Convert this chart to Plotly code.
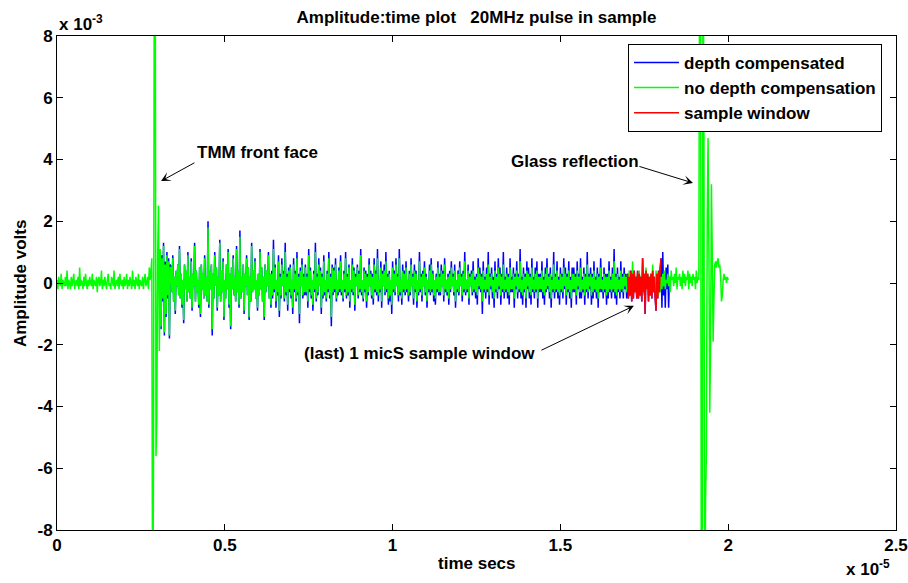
import plotly.graph_objects as go

# ---------------- data ----------------
# time in units of 1e-5 s, samples every dt; amplitudes in units of 1e-4 V
dt = 0.0025
UNIT = 0.1            # 1e-4 V -> axis unit of 1e-3 V

window_start = 1.70   # "(last) 1 micS sample window"
window_end = 1.80

# ---- no depth compensation (green) ----
green_pre_t0 = 0.0
green_pre = [
    1, -2, 2, 0, -1, 3, -2, 1, 0, -1, 2, -1, 4, -2, 1, 0, -2, 2, -1, 1, 3, -2, 0, 1, -1, 2, -2, 5, -1, 1, 0, -2, 2, -1, 3, 0, -2, 1, -1, 2,
    0, -1, 3, -2, 1, 0, -1, 2, -3, 1, 2, -1, 0, 4, -2, 1, -1, 2, 0, -2, 1, 3, -1, 0, -2, 2, 1, -1, 4, -2, 0, 1, -1, 2, -2, 3, 0, -1, 1, -2,
    2, -1, 0, 3, -2, 1, -1, 2, 0, -2, 4, -1, 1, -2, 2, 0, -1, 3, -2, 1, 0, -1, 2, -2, 1, 3, -1, 0, 2, -2, 5, 1,
]
green_front_t0 = 0.28
green_front = [4, 8, -120, -60, 120, 120, -56, -43, 10, 25, -22, 11, -14, 8, -5, 12, -16, 6, -10, 9, -4, 7, -17, 5]

green_echo_t0 = 0.34
green_echo = [
    5, -3, 8, -6, 2, -9, 4, -1, 6, -4, 11, -5, 3, -7, 1, -12, 6, -2, 4, -6, 9, -3, 2, -5, 7, -8, 3, -1, 12, -6, 4, -3, 1, -7, 5, -10, 6, -2, 3, -5,
    8, -4, 2, -6, 18, -7, 4, -2, 6, -15, 3, -5, 9, -1, 5, -8, 2, -4, 13, -6, 4, -3, 7, -11, 1, -5, 6, -2, 10, -7, 3, -14, 5, -2, 8, -4, 2, -6, 11, -3,
    4, -7, 15, -5, 2, -3, 6, -9, 3, -1, 8, -4, 5, -11, 2, -6, 12, -3, 4, -2, 7, -5, 1, -8, 3, -4, 10, -2, 5, -6, 2, -11, 6, -3, 4, -1, 9, -5, 3, -7,
    3, -4, 11, -2, 5, -6, 1, -3, 7, -9, 2, -4, 6, -1, 3, -5, 10, -3, 2, -7, 4, -2, 5, -4, 1, -8, 6, -2, 3, -5, 8, -3, 2, -10, 4, -1, 6, -4, 2, -3,
    5, -3, 2, -6, 9, -2, 4, -4, 1, -7, 3, -2, 10, -5, 2, -3, 6, -1, 4, -8, 2, -4, 7, -3, 1, -5, 3, -2, 8, -4, 2, -11, 5, -3, 4, -2, 6, -5, 1, -3,
    4, -2, 7, -3, 1, -5, 3, -2, 8, -4, 2, -3, 5, -6, 1, -2, 6, -3, 4, -7, 2, -1, 5, -4, 3, -2, 9, -3, 1, -5, 4, -2, 3, -6, 2, -3, 6, -1, 3, -4,
    2, -5, 6, -2, 3, -3, 8, -4, 1, -2, 5, -6, 3, -1, 4, -3, 7, -2, 2, -5, 3, -4, 1, -7, 5, -2, 3, -3, 6, -1, 2, -4, 8, -3, 1, -5, 4, -2, 3, -3,
    5, -2, 1, -4, 3, -3, 6, -1, 2, -5, 4, -2, 3, -6, 1, -3, 7, -2, 2, -4, 3, -1, 5, -3, 2, -6, 1, -2, 4, -3, 6, -2, 3, -4, 1, -5, 2, -2, 5, -3,
    2, -3, 4, -1, 3, -4, 6, -2, 1, -3, 2, -5, 3, -2, 5, -1, 2, -3, 4, -6, 1, -2, 3, -3, 5, -1, 2, -4, 3, -2, 7, -3, 1, -2, 4, -5, 2, -1, 3, -3,
    4, -2, 1, -3, 2, -4, 5, -1, 3, -2, 2, -6, 4, -2, 1, -3, 3, -2, 6, -4, 2, -1, 3, -3, 1, -5, 4, -2, 2, -3, 5, -1, 3, -4, 2, -2, 6, -3, 1, -2,
    3, -3, 2, -4, 5, -2, 1, -2, 3, -5, 2, -1, 4, -3, 2, -2, 7, -3, 1, -4, 3, -2, 2, -5, 4, -1, 3, -3, 2, -4, 5, -2, 1, -3, 3, -2, 4, -5, 2, -2,
    2, -2, 4, -3, 1, -4, 3, -2, 5, -1, 2, -3, 3, -5, 1, -2, 6, -3, 2, -2, 4, -3, 1, -4, 3, -2, 2, -3, 5, -1, 3, -4, 2, -2, 4, -3, 1, -5, 3, -2,
    3, -2, 2, -4, 4, -1, 2, -3, 5, -3, 1, -2, 3, -4, 2, -2, 6, -3, 2, -1, 3, -4, 2, -3, 4, -2, 1, -3, 3, -5, 2, -2, 5, -2, 1, -3, 3, -2, 2, -4,
    2, -3, 4, -2, 1, -3, 3, -2, 7, -3, 2, -4, 3, -2, 1, -3, 4, -2, 2, -3, 3, -1, 2, -3,
]
green_tail_t0 = 1.70
green_tail = [
    3, -2, 4, -3, 2, -4, 7, -2, 3, -3, 2, -4, 3, -2, 4, -3, 2, -2, 3, -4, 2, -3, 5, -2, 3, -3, 2, -4, 3, -2, 6, -3, 2, -3, 4, -2, 3, -4, 2, -3,
    2, -2, 3, -1, 4, -2, 1, 0, 3, -1, 2, -3, 4, 1, 2, -1, 3, 0, 5, -2, 2, 1, 3, -1, 2, -2, 4, 0, 3, -1, 2, 1, 4, -2, 3, 0, 2, -1, 3, 1, 2, -2, 4, 0, 2, 1,
]
green_glass_t0 = 1.915
green_glass = [120, 120, -120, -120, 120, 60, -120, -70, -55, 20, 47, 10, -42, -20, 32, 10, -19, -5, 6, 7,
               5, 7, 8, 5, 6, 2, -6, -4, 1, 3, 1, 2, 0, 2, 1]

# ---- depth compensated (blue) ----
blue_front_t0 = 0.31
blue_front = [-15, 9, -6, 13, -17, 7, -11, 10, -5, 8, -18, 6]

blue_echo_t0 = 0.34
blue_echo = [
    5, -3, 9, -6, 2, -10, 4, -1, 6, -4, 12, -5, 3, -8, 1, -13, 6, -2, 4, -6, 10, -3, 2, -5, 8, -9, 3, -1, 13, -6, 4, -3, 1, -8, 5, -11, 6, -2, 3, -5,
    9, -4, 2, -6, 20, -8, 4, -2, 6, -17, 3, -5, 10, -1, 5, -9, 2, -4, 14, -6, 4, -3, 8, -12, 1, -5, 6, -2, 11, -8, 3, -15, 5, -2, 9, -4, 2, -6, 12, -3,
    4, -8, 17, -5, 2, -3, 6, -10, 3, -1, 9, -4, 5, -12, 2, -6, 13, -3, 4, -2, 8, -5, 1, -9, 3, -4, 11, -2, 5, -6, 2, -12, 6, -3, 4, -1, 10, -5, 3, -8,
    4, -5, 14, -3, 6, -8, 1, -4, 9, -11, 3, -5, 8, -1, 4, -6, 13, -4, 3, -9, 5, -3, 6, -5, 1, -10, 8, -3, 4, -6, 10, -4, 3, -13, 5, -1, 8, -5, 3, -4,
    6, -4, 3, -8, 11, -3, 5, -5, 1, -9, 4, -3, 13, -6, 3, -4, 8, -1, 5, -10, 3, -5, 9, -4, 1, -6, 4, -3, 10, -5, 3, -14, 6, -4, 5, -3, 8, -6, 1, -4,
    5, -3, 9, -4, 1, -6, 4, -3, 10, -5, 3, -4, 6, -8, 1, -3, 8, -4, 5, -9, 3, -1, 6, -5, 4, -3, 11, -4, 1, -6, 5, -3, 4, -8, 3, -4, 8, -1, 4, -5,
    3, -7, 8, -3, 4, -4, 11, -6, 1, -3, 7, -8, 4, -1, 6, -4, 10, -3, 3, -7, 4, -6, 1, -10, 7, -3, 4, -4, 8, -1, 3, -6, 11, -4, 1, -7, 6, -3, 4, -4,
    7, -3, 1, -6, 4, -4, 8, -1, 3, -7, 6, -3, 4, -8, 1, -4, 10, -3, 3, -6, 4, -1, 7, -4, 3, -8, 1, -3, 6, -4, 8, -3, 4, -6, 1, -7, 3, -3, 7, -4,
    3, -4, 6, -1, 4, -6, 8, -3, 1, -4, 3, -7, 4, -3, 7, -1, 3, -4, 6, -8, 1, -3, 4, -4, 7, -1, 3, -6, 4, -3, 10, -4, 1, -3, 6, -7, 3, -1, 4, -4,
    7, -3, 2, -5, 3, -7, 8, -2, 5, -3, 3, -10, 7, -3, 2, -5, 5, -3, 10, -7, 3, -2, 5, -5, 2, -8, 7, -3, 3, -5, 8, -2, 5, -7, 3, -3, 10, -5, 2, -3,
    5, -5, 3, -7, 8, -3, 2, -3, 5, -8, 3, -2, 7, -5, 3, -3, 11, -5, 2, -7, 5, -3, 3, -8, 7, -2, 5, -5, 3, -7, 8, -3, 2, -5, 5, -3, 7, -8, 3, -3,
    3, -3, 7, -5, 2, -7, 5, -3, 8, -2, 3, -5, 5, -8, 2, -3, 10, -5, 3, -3, 7, -5, 2, -7, 5, -3, 3, -5, 8, -2, 5, -7, 3, -3, 7, -5, 2, -8, 5, -3,
    5, -3, 3, -7, 7, -2, 3, -5, 8, -5, 2, -3, 5, -7, 3, -3, 10, -5, 3, -2, 5, -7, 3, -5, 7, -3, 2, -5, 5, -8, 3, -3, 8, -3, 2, -5, 5, -3, 3, -7,
    3, -5, 7, -3, 2, -5, 5, -3, 11, -5, 3, -7, 5, -3, 2, -5, 7, -3, 3, -5, 5, -2, 3, -5,
]
blue_window_t0 = 1.70
blue_window = [
    3, -5, 2, -4, 4, -6, 3, -5, 4, -3, 2, -5, 4, -5, 3, -4, 2, -6, 8, -3,
    3, -10, 4, -2, 3, -6, 2, -4, 3, -5, 4, -3, 2, -5, -9, 3, -5, 4, -3, 5, 8,
    -8, 10, -4, 3, -8, 5, -2, 6, -8, 2,
]

x_ticks = [0, 0.5, 1, 1.5, 2, 2.5]
x_ticklabels = ["0", "0.5", "1", "1.5", "2", "2.5"]
y_ticks = [-8, -6, -4, -2, 0, 2, 4, 6, 8]
y_ticklabels = ["-8", "-6", "-4", "-2", "0", "2", "4", "6", "8"]


def series(segments):
    xs, ys = [], []
    for t0, vals in segments:
        for k, v in enumerate(vals):
            xs.append(t0 + k * dt)
            ys.append(v * UNIT)
    return xs, ys


gx, gy = series([(green_pre_t0, green_pre), (green_front_t0, green_front),
                 (green_echo_t0, green_echo), (green_tail_t0, green_tail),
                 (green_glass_t0, green_glass)])
bx, by = series([(blue_front_t0, blue_front), (blue_echo_t0, blue_echo),
                 (blue_window_t0, blue_window)])
# sample window: depth compensated samples inside [window_start, window_end]
rx = [x for x in bx if window_start - 1e-9 <= x <= window_end + 1e-9]
ry = [y for x, y in zip(bx, by) if window_start - 1e-9 <= x <= window_end + 1e-9]

FONT = "Liberation Sans, Arial, Helvetica, sans-serif"
W, H = 908, 583
ML, MR, MT, MB = 57, 12, 36, 53
LW = 1.5

fig = go.Figure()
fig.add_trace(go.Scatter(x=bx, y=by, mode="lines", name="<b>depth compensated</b>",
                         line=dict(color="#0000FF", width=LW, simplify=False)))
fig.add_trace(go.Scatter(x=gx, y=gy, mode="lines", name="<b>no depth compensation</b>",
                         line=dict(color="#00FF00", width=LW, simplify=False)))
fig.add_trace(go.Scatter(x=rx, y=ry, mode="lines", name="<b>sample window</b>",
                         line=dict(color="#FF0000", width=LW, simplify=False)))

axis_common = dict(showgrid=False, zeroline=False, showline=True, linecolor="black",
                   linewidth=1, mirror="ticks", ticks="inside", ticklen=6,
                   tickcolor="black", tickwidth=1, automargin=False,
                   tickfont=dict(family=FONT, size=17, color="black"))

fig.update_xaxes(range=[0, 2.5], tickvals=x_ticks, ticktext=[f"<b>{t}</b>" for t in x_ticklabels],
                 **axis_common)
fig.update_yaxes(range=[-8, 8], tickvals=y_ticks, ticktext=[f"<b>{t}</b>" for t in y_ticklabels],
                 **axis_common)

bold = lambda s: "<b>" + s + "</b>"

annotations = [
    dict(text=bold("time secs"), xref="paper", yref="paper", x=0.5, y=-0.067,
         xanchor="center", yanchor="middle", showarrow=False),
    dict(text=bold("Amplitude volts"), xref="paper", yref="paper", x=-0.044, y=0.5,
         xanchor="center", yanchor="middle", textangle=-90, showarrow=False),
    dict(text=bold("x 10<sup>-3</sup>"), xref="paper", yref="paper", x=0.0, y=1.0,
         xanchor="left", yanchor="bottom", showarrow=False),
    dict(text=bold("x 10<sup>-5</sup>"), xref="paper", yref="paper", x=0.995, y=-0.1032,
         xanchor="right", yanchor="bottom", showarrow=False),
    dict(text=bold("TMM front face"), x=0.411, y=4.24, xanchor="left", yanchor="middle",
         showarrow=False),
    dict(text=bold("Glass reflection"), x=1.347, y=3.92, xanchor="left", yanchor="middle",
         showarrow=False),
    dict(text=bold("(last) 1 micS sample window"), x=0.730, y=-2.27, xanchor="left",
         yanchor="middle", showarrow=False),
    dict(text="", x=0.31, y=3.3, ax=0.414, ay=3.92, axref="x", ayref="y",
         showarrow=True, arrowhead=3, arrowsize=1.6, arrowwidth=1, arrowcolor="black",
         standoff=0, startstandoff=0),
    dict(text="", x=1.895, y=3.24, ax=1.731, ay=3.79, axref="x", ayref="y",
         showarrow=True, arrowhead=3, arrowsize=1.6, arrowwidth=1, arrowcolor="black",
         standoff=0, startstandoff=0),
    dict(text="", x=1.719, y=-0.74, ax=1.439, ay=-2.2, axref="x", ayref="y",
         showarrow=True, arrowhead=3, arrowsize=1.6, arrowwidth=1, arrowcolor="black",
         standoff=0, startstandoff=0),
]
for a in annotations:
    a.setdefault("font", dict(family=FONT, size=17, color="black"))

fig.update_layout(
    width=W, height=H,
    margin=dict(l=ML, r=MR, t=MT, b=MB, pad=0, autoexpand=False),
    paper_bgcolor="white", plot_bgcolor="white",
    font=dict(family=FONT, size=17, color="black"),
    title=dict(text=bold("Amplitude:time plot   20MHz pulse in sample"),
               x=0.5, xref="paper", y=1 - 17 / H, yref="container",
               xanchor="center", yanchor="middle",
               font=dict(family=FONT, size=17, color="black")),
    showlegend=True,
    legend=dict(x=0.6806, y=0.984, xanchor="left", yanchor="top",
                bgcolor="white", bordercolor="black", borderwidth=1,
                font=dict(family=FONT, size=17, color="black"),
                itemwidth=45, tracegroupgap=0),
    annotations=annotations,
)

fig.write_html("out.html")
